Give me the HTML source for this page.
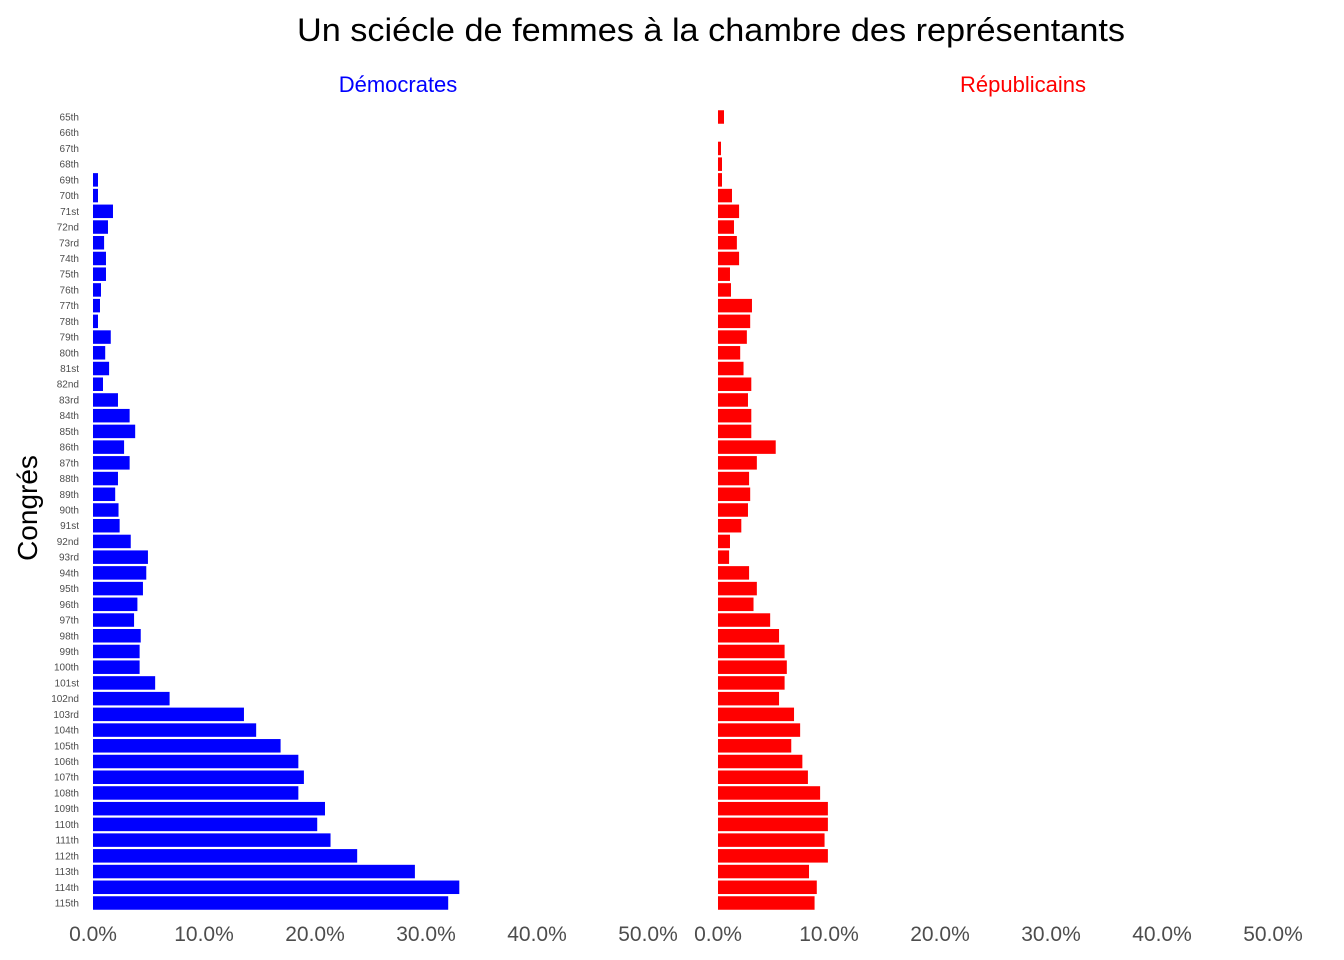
<!DOCTYPE html>
<html><head><meta charset="utf-8"><style>
html,body{margin:0;padding:0;background:#fff;}
svg{display:block;font-family:"Liberation Sans",Arial,sans-serif;}
</style></head><body>
<svg id="chart" width="1344" height="960" xmlns="http://www.w3.org/2000/svg">
<text x="297" y="41" font-size="32" textLength="828" lengthAdjust="spacingAndGlyphs" fill="#000">Un sciécle de femmes à la chambre des représentants</text>
<text x="398" y="92" font-size="22" text-anchor="middle" fill="#0000ff">Démocrates</text>
<text x="1023" y="92" font-size="22" text-anchor="middle" fill="#ff0000">Républicains</text>
<text transform="translate(37,508) rotate(-90)" font-size="28" text-anchor="middle" fill="#000">Congrés</text>
<g id="bars"></g>
</svg>
<script>
const congresses = [];
for (let i = 65; i <= 115; i++) congresses.push(i);
const demValues = [0,0,0,0,0.45,0.45,1.8,1.35,1.0,1.17,1.17,0.72,0.63,0.45,1.6,1.1,1.45,0.9,2.25,3.3,3.8,2.8,3.3,2.25,2.0,2.3,2.4,3.4,4.95,4.8,4.5,4.0,3.7,4.3,4.2,4.2,5.6,6.9,13.6,14.7,16.9,18.5,19.0,18.5,20.9,20.2,21.4,23.8,29.0,33.0,32.0];
const repValues = [0.54,0,0.27,0.36,0.36,1.26,1.9,1.44,1.7,1.9,1.08,1.17,3.06,2.9,2.6,2.0,2.3,3.0,2.7,3.0,3.0,5.2,3.5,2.8,2.9,2.7,2.1,1.08,1.0,2.8,3.5,3.2,4.7,5.5,6.0,6.2,6.0,5.5,6.85,7.4,6.6,7.6,8.1,9.2,9.9,9.9,9.6,9.9,8.2,8.9,8.7];
const xTicks = [0,10,20,30,40,50];

const NS = "http://www.w3.org/2000/svg";
const g = document.getElementById('bars');
function suffix(n){const m=n%100;if(m>=11&&m<=13)return 'th';return ({1:'st',2:'nd',3:'rd'})[n%10]||'th';}
function yPos(i){return 117 + i*(903-117)/(congresses.length-1);}
const demX = v => 93 + v*11.1;
const repX = v => 718 + v*11.1;
const bh = 13.5;

congresses.forEach((c,i)=>{
  const y = yPos(i);
  const t = document.createElementNS(NS,'text');
  t.setAttribute('x',79); t.setAttribute('y',y+3.5);
  t.setAttribute('font-size','10'); t.setAttribute('text-anchor','end'); t.setAttribute('fill','#4d4d4d');
  t.textContent = c + suffix(c);
  
  
  g.appendChild(t);
  if (demValues[i] > 0) {
    const r = document.createElementNS(NS,'rect');
    r.setAttribute('x',demX(0)); r.setAttribute('y',y-bh/2);
    r.setAttribute('width',demX(demValues[i])-demX(0)); r.setAttribute('height',bh);
    r.setAttribute('fill','#0000ff');
    
    
    g.appendChild(r);
  }
  if (repValues[i] > 0) {
    const r = document.createElementNS(NS,'rect');
    r.setAttribute('x',repX(0)); r.setAttribute('y',y-bh/2);
    r.setAttribute('width',repX(repValues[i])-repX(0)); r.setAttribute('height',bh);
    r.setAttribute('fill','#ff0000');
    
    
    g.appendChild(r);
  }
});
[demX, repX].forEach(fx=>{
  xTicks.forEach(v=>{
    const t = document.createElementNS(NS,'text');
    t.setAttribute('x',fx(v)); t.setAttribute('y',941);
    t.setAttribute('font-size','21'); t.setAttribute('text-anchor','middle'); t.setAttribute('fill','#4d4d4d');
    t.textContent = v.toFixed(1)+'%';
    
    
    g.appendChild(t);
  });
});
</script>
</body></html>
